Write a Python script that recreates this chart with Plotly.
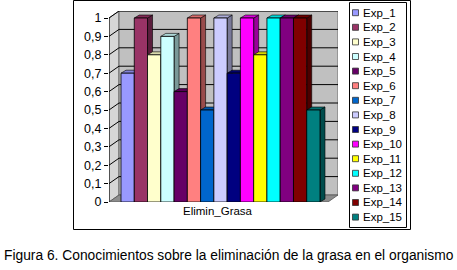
import plotly.graph_objects as go

# ---------------- data ----------------
categories = ["Elimin_Grasa"]
series_names = ["Exp_1", "Exp_2", "Exp_3", "Exp_4", "Exp_5", "Exp_6", "Exp_7", "Exp_8",
                "Exp_9", "Exp_10", "Exp_11", "Exp_12", "Exp_13", "Exp_14", "Exp_15"]
values = [0.7, 1.0, 0.8, 0.9, 0.6, 1.0, 0.5, 1.0, 0.7, 1.0, 0.8, 1.0, 1.0, 1.0, 0.5]
colors = ["#9999FF", "#993366", "#FFFFCC", "#CCFFFF", "#660066", "#FF8080", "#0066CC",
          "#CCCCFF", "#000080", "#FF00FF", "#FFFF00", "#00FFFF", "#800080", "#800000",
          "#008080"]
y_tick_values = [0, 0.1, 0.2, 0.3, 0.4, 0.5, 0.6, 0.7, 0.8, 0.9, 1.0]
y_tick_labels = ["0", "0,1", "0,2", "0,3", "0,4", "0,5", "0,6", "0,7", "0,8", "0,9", "1"]
caption = "Figura 6. Conocimientos sobre la eliminación de la grasa en el organismo"

# ---------------- layout geometry (pixels) ----------------
W, H = 457, 270
FRONT_L, FRONT_R = 109, 328      # front plane left / right
Y0PX, Y1PX = 202, 18             # pixel of value 0 and 1 on the front plane
WALL_DX, WALL_DY = 10, 7         # 3D depth of the walls
BAR_DX, BAR_DY = 5, 3            # 3D depth of the bars
BARS_L, BARS_R = 121, 320        # bar group extent

unit_px = FRONT_R - FRONT_L
yunit_px = Y0PX - Y1PX
group = (BARS_R - BARS_L) / unit_px
center_px = (BARS_L + BARS_R) / 2
x_lo = -(center_px - FRONT_L) / unit_px
x_hi = x_lo + (FRONT_R + WALL_DX - FRONT_L) / unit_px
dxw, dyw = WALL_DX / unit_px, WALL_DY / yunit_px
dxb, dyb = BAR_DX / unit_px, BAR_DY / yunit_px
X0, X1 = x_lo, x_lo + 1.0
n = len(values)
bw = group / n


def px(x):
    return x / W


def py(y):
    return 1 - y / H


def darker(hexc, f):
    r, g, b = int(hexc[1:3], 16), int(hexc[3:5], 16), int(hexc[5:7], 16)
    return "rgb(%d,%d,%d)" % (r * f, g * f, b * f)


def poly(pts):
    return "M " + " L ".join("%.5f,%.5f" % p for p in pts) + " Z"


fig = go.Figure()
for i, (name, v, c) in enumerate(zip(series_names, values, colors)):
    fig.add_trace(go.Bar(
        x=[0], y=[v], name=name, width=bw, offset=-group / 2 + i * bw,
        marker=dict(color=c, line=dict(color="#000000", width=0.8)),
        showlegend=False, hoverinfo="skip"))

shapes = []
# walls
shapes.append(dict(type="path", xref="x", yref="y", layer="below",
                   path=poly([(X0, 0), (X0 + dxw, dyw), (X0 + dxw, 1 + dyw), (X0, 1)]),
                   fillcolor="#D6D6D6", line=dict(color="#555555", width=0.8)))
shapes.append(dict(type="path", xref="x", yref="y", layer="below",
                   path=poly([(X0 + dxw, dyw), (X1 + dxw, dyw), (X1 + dxw, 1 + dyw), (X0 + dxw, 1 + dyw)]),
                   fillcolor="#C0C0C0", line=dict(color="#555555", width=0.8)))
shapes.append(dict(type="path", xref="x", yref="y", layer="below",
                   path=poly([(X0, 0), (X1, 0), (X1 + dxw, dyw), (X0 + dxw, dyw)]),
                   fillcolor="#8C8C8C", line=dict(color="#555555", width=0.8)))
# gridlines on the walls
for t in y_tick_values[1:]:
    shapes.append(dict(type="line", xref="x", yref="y", layer="below",
                       x0=X0, y0=t, x1=X0 + dxw, y1=t + dyw, line=dict(color="#000000", width=1)))
    shapes.append(dict(type="line", xref="x", yref="y", layer="below",
                       x0=X0 + dxw, y0=t + dyw, x1=X1 + dxw, y1=t + dyw, line=dict(color="#000000", width=1)))
# 3D faces of bars
for i, (v, c) in enumerate(zip(values, colors)):
    xl = -group / 2 + i * bw
    xr = xl + bw
    shapes.append(dict(type="path", xref="x", yref="y", layer="below",
                       path=poly([(xr, 0), (xr + dxb, dyb), (xr + dxb, v + dyb), (xr, v)]),
                       fillcolor=darker(c, 0.6), line=dict(color="#000000", width=0.6)))
    shapes.append(dict(type="path", xref="x", yref="y", layer="below",
                       path=poly([(xl, v), (xr, v), (xr + dxb, v + dyb), (xl + dxb, v + dyb)]),
                       fillcolor=darker(c, 0.85), line=dict(color="#000000", width=0.6)))
# y axis line (front)
shapes.append(dict(type="line", xref="x", yref="y", layer="above",
                   x0=X0, y0=0, x1=X0, y1=1, line=dict(color="#000000", width=1)))
# outer chart frame
shapes.append(dict(type="rect", xref="paper", yref="paper", layer="below",
                   x0=px(73.5), y0=py(229.5), x1=px(410.5), y1=py(0.5),
                   line=dict(color="#000000", width=1), fillcolor="rgba(0,0,0,0)"))
# legend box
LEG_L, LEG_R, LEG_T, LEG_B = 349.5, 406.5, 2.5, 227.5
shapes.append(dict(type="rect", xref="paper", yref="paper", layer="above",
                   x0=px(LEG_L), y0=py(LEG_B), x1=px(LEG_R), y1=py(LEG_T),
                   line=dict(color="#000000", width=1), fillcolor="#FFFFFF"))
annotations = []
first_y, step = 12.7, 14.6
for i, (name, c) in enumerate(zip(series_names, colors)):
    yc = first_y + i * step
    shapes.append(dict(type="rect", xref="paper", yref="paper", layer="above",
                       x0=px(352.5), y0=py(yc + 3), x1=px(358.5), y1=py(yc - 3),
                       fillcolor=c, line=dict(color="#333333", width=0.8)))
    annotations.append(dict(xref="paper", yref="paper", x=px(361), y=py(yc), xanchor="left",
                            yanchor="middle", text=name, showarrow=False,
                            font=dict(family="Liberation Sans, Arial", size=11.5, color="#000000")))
annotations.append(dict(xref="paper", yref="paper", x=px(229), y=py(255), xanchor="center",
                        yanchor="middle", text=caption, showarrow=False,
                        font=dict(family="Liberation Sans, Arial", size=13.8, color="#000000")))

fig.update_layout(
    width=W, height=H, margin=dict(l=0, r=0, t=0, b=0, autoexpand=False),
    paper_bgcolor="#FFFFFF", plot_bgcolor="rgba(0,0,0,0)",
    barmode="overlay",
    showlegend=False,
    font=dict(family="Liberation Sans, Arial", size=11, color="#000000"),
    xaxis=dict(domain=[px(FRONT_L), px(FRONT_R + WALL_DX)], range=[x_lo, x_hi],
               tickvals=[0], ticktext=categories, ticks="", showgrid=False, zeroline=False,
               showline=False, ticklabelshift=-3, tickfont=dict(size=11.5), automargin=False),
    yaxis=dict(domain=[py(Y0PX), py(Y1PX - WALL_DY)], range=[0, 1 + dyw],
               tickvals=y_tick_values, ticktext=y_tick_labels, ticks="outside", ticklen=4,
               tickcolor="#000000", showgrid=False, zeroline=False, showline=False,
               tickfont=dict(size=12.5), automargin=False),
    shapes=shapes, annotations=annotations,
)
page_fix = ("var s=document.documentElement.style;s.margin='0';s.padding='0';s.overflow='hidden';"
            "s.width='457px';s.height='270px';"
            "var b=document.body.style;b.margin='0';b.padding='0';b.overflow='hidden';"
            "b.width='457px';b.height='270px';")
fig.write_html("out.html", config={"displayModeBar": False, "staticPlot": True},
               post_script=page_fix)
